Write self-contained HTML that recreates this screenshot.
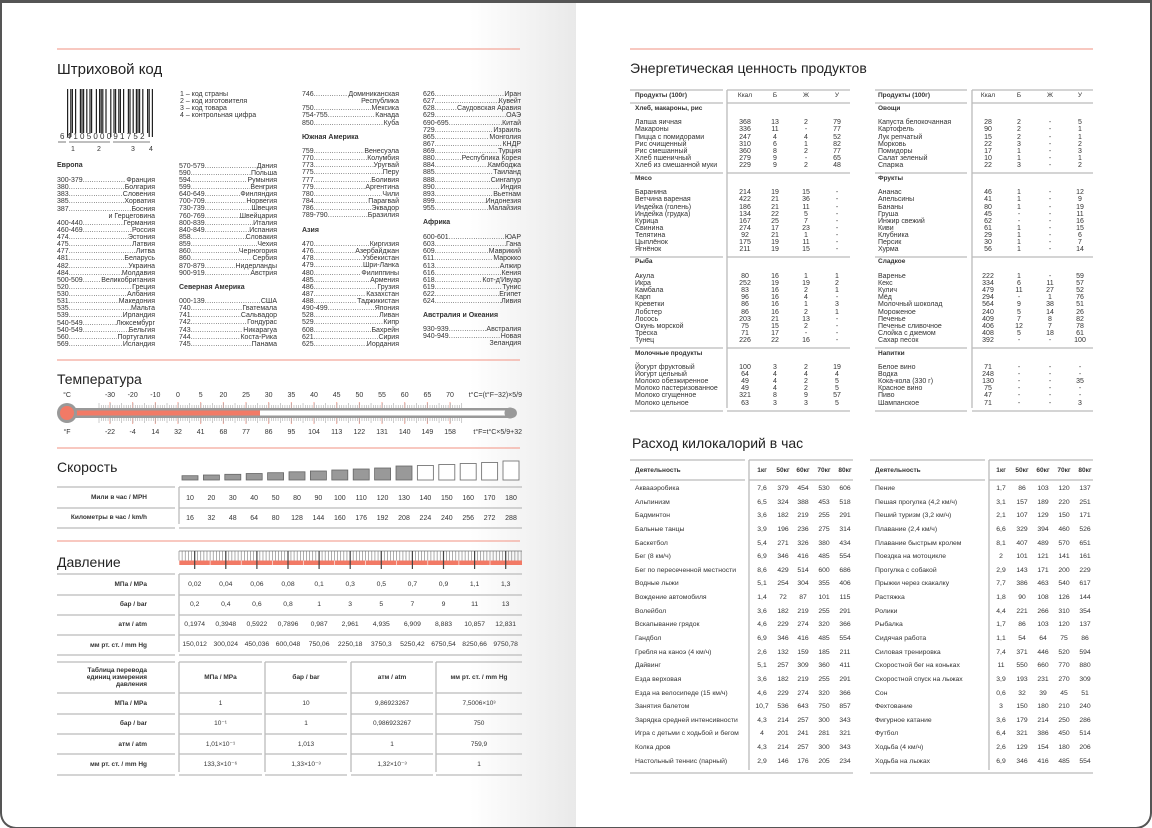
<!DOCTYPE html>
<html><head><meta charset="utf-8">
<style>
html,body{margin:0;padding:0;background:#fff;}
#pg{position:relative;width:1152px;height:828px;overflow:hidden;background:#fff;font-family:"Liberation Sans","DejaVu Sans",sans-serif;color:#333;}
#frame{position:absolute;left:0;top:0;width:1148px;height:824px;border:2px solid #555;border-top-width:3px;border-radius:0 0 16px 16px;}
.t{position:absolute;white-space:nowrap;}
.l{position:absolute;}
.lr{position:absolute;display:flex;font-size:7px;line-height:7px;white-space:nowrap;}
.lr .d{flex:1;overflow:hidden;letter-spacing:0.3px;}
</style></head><body>
<div id="pg">
<div style="position:absolute;left:470px;top:0;width:106px;height:828px;background:linear-gradient(90deg,rgba(255,255,255,0),#e9e9e9)"></div>
<svg id="sv" width="1152" height="828" style="position:absolute;left:0;top:0"></svg>
<div id="frame"></div>
</div>
<script>
var pg=document.getElementById('pg');var sv=document.getElementById('sv');var NS='http://www.w3.org/2000/svg';
function T(x,y,s,o){o=o||{};var fs=o.fs||7;var d=document.createElement('div');d.className='t';d.textContent=s;
d.style.left=x+'px';d.style.top=(y-fs*0.58)+'px';d.style.fontSize=fs+'px';d.style.lineHeight=fs+'px';
if(o.b)d.style.fontWeight='bold';if(o.c)d.style.color=o.c;
if(o.a=='c')d.style.transform='translateX(-50%)';if(o.a=='r')d.style.transform='translateX(-100%)';pg.appendChild(d);return d;}
function S(tag,at){var e=document.createElementNS(NS,tag);for(var k in at)e.setAttribute(k,at[k]);sv.appendChild(e);return e;}
function H(x1,x2,y,c,w){S('line',{x1:x1,x2:x2,y1:y,y2:y,stroke:c||'#bbb','stroke-width':w||1.3});}
function V(x,y1,y2,c,w){S('line',{x1:x,x2:x,y1:y1,y2:y2,stroke:c||'#bbb','stroke-width':w||1.3});}
var OR='#f4a79a';
function LR(x,w,y,code,name){var d=document.createElement('div');d.className='lr';d.style.left=x+'px';d.style.width=w+'px';d.style.top=(y-4)+'px';
d.innerHTML='<span></span><span class="d">........................................................................</span><span></span>';d.children[0].textContent=code;d.children[2].textContent=name;pg.appendChild(d);}
function list(x,w,y,arr){arr.forEach(function(it,i){var yy=y+i*7.13;if(it[0]==='')T(x+w,yy,it[1],{a:'r'});else LR(x,w,yy,it[0],it[1]);});}

// ===== LEFT PAGE =====
H(57,520,49,OR,1.3);H(630,1093,49,OR,1.3);
T(57,71,'Штриховой код',{fs:15,c:'#222'});
// barcode
(function(){var x=67;var pat=[1,0,1,1,0,1,0,0,1,1,1,0,1,0,1,1,0,0,1,0,1,1,1,0,1,0,0,1,0,1,1,0,1,1,0,1,0,0,1,1,0,1,0,1,1,1,0,1,0,0,1,1,0,1];
for(var i=0;i<pat.length;i++){if(pat[i])S('rect',{x:x+i*1.6,y:89,width:1.2,height:(i<3||i>50||(i>25&&i<29))?48:44,fill:'#222'});}})();
T(60,138,'6   4 1 0 5 0 0   0 9 1 7 5 2',{fs:8});
H(58,66,142,'#555',0.8);H(69,110,142,'#555',0.8);H(113,150,142,'#555',0.8);
T(71,150,'1',{fs:7});T(97,150,'2',{fs:7});T(131,150,'3',{fs:7});T(149,150,'4',{fs:7});
T(180,95,'1 – код страны');T(180,102,'2 – код изготовителя');T(180,109,'3 – код товара');T(180,116,'4 – контрольная цифра');
T(57,166,'Европа',{b:1});
list(57,98,181,[['300-379','Франция'],['380','Болгария'],['383','Словения'],['385','Хорватия'],['387','Босния'],['','и Герцеговина'],['400-440','Германия'],['460-469','Россия'],['474','Эстония'],['475','Латвия'],['477','Литва'],['481','Беларусь'],['482','Украина'],['484','Молдавия'],['500-509','Великобритания'],['520','Греция'],['530','Албания'],['531','Македония'],['535','Мальта'],['539','Ирландия'],['540-549','Люксембург'],['540-549','Бельгия'],['560','Португалия'],['569','Исландия']]);
list(179,98,166.7,[['570-579','Дания'],['590','Польша'],['594','Румыния'],['599','Венгрия'],['640-649','Финляндия'],['700-709','Норвегия'],['730-739','Швеция'],['760-769','Швейцария'],['800-839','Италия'],['840-849','Испания'],['858','Словакия'],['859','Чехия'],['860','Черногория'],['860','Сербия'],['870-879','Нидерланды'],['900-919','Австрия']]);
T(179,288,'Северная Америка',{b:1});
list(179,98,302,[['000-139','США'],['740','Гватемала'],['741','Сальвадор'],['742','Гондурас'],['743','Никарагуа'],['744','Коста-Рика'],['745','Панама']]);
list(302,97,95,[['746','Доминиканская'],['','Республика'],['750','Мексика'],['754-755','Канада'],['850','Куба']]);
T(302,138,'Южная Америка',{b:1});
list(302,97,152,[['759','Венесуэла'],['770','Колумбия'],['773','Уругвай'],['775','Перу'],['777','Боливия'],['779','Аргентина'],['780','Чили'],['784','Парагвай'],['786','Эквадор'],['789-790','Бразилия']]);
T(302,231,'Азия',{b:1});
list(302,97,245,[['470','Киргизия'],['476','Азербайджан'],['478','Узбекистан'],['479','Шри-Ланка'],['480','Филиппины'],['485','Армения'],['486','Грузия'],['487','Казахстан'],['488','Таджикистан'],['490-499','Япония'],['528','Ливан'],['529','Кипр'],['608','Бахрейн'],['621','Сирия'],['625','Иордания']]);
list(423,98,95,[['626','Иран'],['627','Кувейт'],['628','Саудовская Аравия'],['629','ОАЭ'],['690-695','Китай'],['729','Израиль'],['865','Монголия'],['867','КНДР'],['869','Турция'],['880','Республика Корея'],['884','Камбоджа'],['885','Таиланд'],['888','Сингапур'],['890','Индия'],['893','Вьетнам'],['899','Индонезия'],['955','Малайзия']]);
T(423,223,'Африка',{b:1});
list(423,98,238,[['600-601','ЮАР'],['603','Гана'],['609','Маврикий'],['611','Марокко'],['613','Алжир'],['616','Кения'],['618',"Кот-д'Ивуар"],['619','Тунис'],['622','Египет'],['624','Ливия']]);
T(423,316,'Австралия и Океания',{b:1});
list(423,98,330,[['930-939','Австралия'],['940-949','Новая'],['','Зеландия']]);
H(57,520,360,OR,1.3);

// Temperature
T(57,380,'Температура',{fs:14,c:'#222'});
T(67,396,'°C',{a:'c'});T(67,433,'°F',{a:'c'});
var cl=['-30','-20','-10','0','5','20','25','30','35','40','45','50','55','60','65','70'];
var fl=['-22','-4','14','32','41','68','77','86','95','104','113','122','131','140','149','158'];
for(var i=0;i<16;i++){var x=110+i*22.67;T(x,396,cl[i],{a:'c'});T(x,433,fl[i],{a:'c'});V(x,402,424,OR,1);}
for(var k=0;k<=160;k++){var x=99+k*2.267;var lg=(k%5==0)?5:3;V(x,408-lg,408,'#aaa',0.6);V(x,418,418+lg,'#aaa',0.6);}
T(522,396,'t°C=(t°F−32)×5/9',{a:'r'});T(522,433,'t°F=t°C×5/9+32',{a:'r'});
S('rect',{x:67,y:408,width:450,height:10,rx:5,fill:'#999'});
S('rect',{x:70,y:410.5,width:444,height:5,rx:2.5,fill:'#fff'});
S('rect',{x:70,y:410.5,width:190,height:5,fill:'#f27a66'});
S('circle',{cx:510,cy:413,r:5.5,fill:'#999'});S('circle',{cx:67,cy:413,r:10,fill:'#999'});S('circle',{cx:67,cy:413,r:7,fill:'#f27a66'});
H(57,520,448,OR,1.3);

// Speed
T(57,468,'Скорость',{fs:14,c:'#222'});
var bh=[4.3,5,5.7,6.5,7.3,8.2,9,10,11,12,14,14.5,15.5,16.5,17.5,19];
for(var i=0;i<16;i++){var x=182+i*21.4;if(i<11)S('rect',{x:x,y:480-bh[i],width:16,height:bh[i],fill:'#999',stroke:'#666','stroke-width':0.8});else S('rect',{x:x,y:480-bh[i],width:16,height:bh[i],fill:'#fff',stroke:'#777','stroke-width':0.9});}
H(57,175,487);H(179,522,487);H(57,175,508);H(179,522,508);H(57,175,528);H(179,522,528);V(179,487,524);
T(147,499,'Мили в час / MPH',{a:'r',b:1,fs:6.5});T(147,519,'Километры в час / km/h',{a:'r',b:1,fs:6.5});
var mph=[10,20,30,40,50,80,90,100,110,120,130,140,150,160,170,180];
for(var i=0;i<16;i++){T(190+i*21.4,499,''+mph[i],{a:'c'});T(190+i*21.4,519,''+Math.round(mph[i]*1.6),{a:'c'});}
H(57,520,541,OR,1.3);

// Pressure
T(57,563,'Давление',{fs:14,c:'#222'});
H(179,522,551,'#777',0.8);S('rect',{x:179,y:560.5,width:343,height:4.5,fill:'#f27a66'});
for(var k=0;k<=110;k++){V(179+k*3.11,551,560.5,'#777',0.6);}
for(var k=0;k<11;k++){V(194.7+k*31.1,551,569,'#444',1.2);V(179+k*31.1,560.5,565,'#fff',0.6);}
var pl=['МПа / MPa','бар / bar','атм / atm','мм рт. ст. / mm Hg'];
var pv=[['0,02','0,04','0,06','0,08','0,1','0,3','0,5','0,7','0,9','1,1','1,3'],['0,2','0,4','0,6','0,8','1','3','5','7','9','11','13'],['0,1974','0,3948','0,5922','0,7896','0,987','2,961','4,935','6,909','8,883','10,857','12,831'],['150,012','300,024','450,036','600,048','750,06','2250,18','3750,3','5250,42','6750,54','8250,66','9750,78']];
var ly=[574,595,615,635,655];
ly.forEach(function(y){H(57,175,y);H(179,522,y);});V(179,574,652);
for(var r=0;r<4;r++){var y=586+r*20.1;T(147,y,pl[r],{a:'r',b:1,fs:6.5});for(var k=0;k<11;k++)T(194.7+k*31.1,y,pv[r][k],{a:'c',fs:6.8});}
var cx=[[57,175],[179,262],[265,347],[351,433],[436,522]];
[662,693,714,734,754,775].forEach(function(y){cx.forEach(function(c){H(c[0],c[1],y);});});
for(var j=1;j<5;j++)V(cx[j][0],662,772);
T(147,672,'Таблица перевода',{a:'r',b:1,fs:6.5});T(147,679,'единиц измерения',{a:'r',b:1,fs:6.5});T(147,686,'давления',{a:'r',b:1,fs:6.5});
var hd=['МПа / MPa','бар / bar','атм / atm','мм рт. ст. / mm Hg'];
for(var j=0;j<4;j++)T((cx[j+1][0]+cx[j+1][1])/2,679,hd[j],{a:'c',b:1,fs:6.5});
var tv=[['1','10','9,86923267','7,5006×10³'],['10⁻¹','1','0,986923267','750'],['1,01×10⁻¹','1,013','1','759,9'],['133,3×10⁻⁶','1,33×10⁻³','1,32×10⁻³','1']];
for(var r=0;r<4;r++){var y=705+r*20.2;T(147,y,pl[r],{a:'r',b:1,fs:6.5});for(var j=0;j<4;j++)T((cx[j+1][0]+cx[j+1][1])/2,y,tv[r][j],{a:'c',fs:6.5});}

// ===== RIGHT PAGE =====
T(630,69,'Энергетическая ценность продуктов',{fs:14,c:'#222'});
function ftab(nx,n2,lx1,lx2,vx1,vx2,cols,secs){
 H(lx1,lx2,90);H(vx1,vx2,90);H(lx1,lx2,103);H(vx1,vx2,103);
 T(nx,97,'Продукты',{b:1,fs:6.5}).innerHTML='<b>Продукты</b> (100г)';
 ['Ккал','Б','Ж','У'].forEach(function(h,i){T(cols[i],97,h,{a:'c',fs:6.5});});
 var hy=[110,180,263,355],iy=[123.3,193.3,277,368],ey=[173,257,348,411];
 V(vx1,90,408);
 for(var s=0;s<4;s++){T(nx,hy[s],secs[s][0],{b:1,fs:6.5});
  secs[s][1].forEach(function(r,i){var y=iy[s]+i*7.13;T(nx,y,r[0],{fs:7});for(var c=0;c<4;c++)T(cols[c],y,r[c+1],{a:'c',fs:7});});
  H(lx1,lx2,ey[s]);H(vx1,vx2,ey[s]);}
}
function P(s){return s.split('|').map(function(r){return r.split(';');});}
ftab(635,0,630,723,727,850,[745,775,806,837],[
['Хлеб, макароны, рис',P('Лапша яичная;368;13;2;79|Макароны;336;11;-;77|Пицца с помидорами;247;4;4;52|Рис очищенный;310;6;1;82|Рис смешанный;360;8;2;77|Хлеб пшеничный;279;9;-;65|Хлеб из смешанной муки;229;9;2;48')],
['Мясо',P('Баранина;214;19;15;-|Ветчина вареная;422;21;36;-|Индейка (голень);186;21;11;-|Индейка (грудка);134;22;5;-|Курица;167;25;7;-|Свинина;274;17;23;-|Телятина;92;21;1;-|Цыплёнок;175;19;11;-|Ягнёнок;211;19;15;-')],
['Рыба',P('Акула;80;16;1;1|Икра;252;19;19;2|Камбала;83;16;2;1|Карп;96;16;4;-|Креветки;86;16;1;3|Лобстер;86;16;2;1|Лосось;203;21;13;-|Окунь морской;75;15;2;-|Треска;71;17;-;-|Тунец;226;22;16;-')],
['Молочные продукты',P('Йогурт фруктовый;100;3;2;19|Йогурт цельный;64;4;4;4|Молоко обезжиренное;49;4;2;5|Молоко пастеризованное;49;4;2;5|Молоко сгущенное;321;8;9;57|Молоко цельное;63;3;3;5')]]);
ftab(878,0,875,967,972,1093,[988,1019,1050,1080],[
['Овощи',P('Капуста белокочанная;28;2;-;5|Картофель;90;2;-;1|Лук репчатый;15;2;-;1|Морковь;22;3;-;2|Помидоры;17;1;-;3|Салат зеленый;10;1;-;1|Спаржа;22;3;-;2')],
['Фрукты',P('Ананас;46;1;-;12|Апельсины;41;1;-;9|Бананы;80;1;-;19|Груша;45;-;-;11|Инжир свежий;62;-;-;16|Киви;61;1;-;15|Клубника;29;1;-;6|Персик;30;1;-;7|Хурма;56;1;-;14')],
['Сладкое',P('Варенье;222;1;-;59|Кекс;334;6;11;57|Кулич;479;11;27;52|Мёд;294;-;1;76|Молочный шоколад;564;9;38;51|Мороженое;240;5;14;26|Печенье;409;7;8;82|Печенье сливочное;406;12;7;78|Слойка с джемом;408;5;18;61|Сахар песок;392;-;-;100')],
['Напитки',P('Белое вино;71;-;-;-|Водка;248;-;-;-|Кока-кола (330 г);130;-;-;35|Красное вино;75;-;-;-|Пиво;47;-;-;-|Шампанское;71;-;-;3')]]);

T(632,444,'Расход килокалорий в час',{fs:14,c:'#222'});
function ktab(nx,lx1,lx2,vx,vx2,cols,rows){
 H(lx1,lx2,460);H(vx,vx2,460);H(lx1,lx2,480);H(vx,vx2,480);V(vx,460,770);H(lx1,vx2,773);
 T(nx,472,'Деятельность',{b:1,fs:6.5});['1кг','50кг','60кг','70кг','80кг'].forEach(function(h,i){T(cols[i],472,h,{a:'c',b:1,fs:6.5});});
 rows.forEach(function(r,i){var y=490+i*13.63;T(nx,y,r[0],{fs:6.8});for(var c=0;c<5;c++)T(cols[c],y,r[c+1],{a:'c',fs:6.8});});
}
ktab(635,630,745,749,853,[762,783,803,824,845],P('Аквааэробика;7,6;379;454;530;606|Альпинизм;6,5;324;388;453;518|Бадминтон;3,6;182;219;255;291|Бальные танцы;3,9;196;236;275;314|Баскетбол;5,4;271;326;380;434|Бег (8 км/ч);6,9;346;416;485;554|Бег по пересеченной местности;8,6;429;514;600;686|Водные лыжи;5,1;254;304;355;406|Вождение автомобиля;1,4;72;87;101;115|Волейбол;3,6;182;219;255;291|Вскапывание грядок;4,6;229;274;320;366|Гандбол;6,9;346;416;485;554|Гребля на каноэ (4 км/ч);2,6;132;159;185;211|Дайвинг;5,1;257;309;360;411|Езда верховая;3,6;182;219;255;291|Езда на велосипеде (15 км/ч);4,6;229;274;320;366|Занятия балетом;10,7;536;643;750;857|Зарядка средней интенсивности;4,3;214;257;300;343|Игра с детьми с ходьбой и бегом;4;201;241;281;321|Колка дров;4,3;214;257;300;343|Настольный теннис (парный);2,9;146;176;205;234'));
ktab(875,870,985,989,1093,[1001,1022,1043,1064,1085],P('Пение;1,7;86;103;120;137|Пешая прогулка (4,2 км/ч);3,1;157;189;220;251|Пеший туризм (3,2 км/ч);2,1;107;129;150;171|Плавание (2,4 км/ч);6,6;329;394;460;526|Плавание быстрым кролем;8,1;407;489;570;651|Поездка на мотоцикле;2;101;121;141;161|Прогулка с собакой;2,9;143;171;200;229|Прыжки через скакалку;7,7;386;463;540;617|Растяжка;1,8;90;108;126;144|Ролики;4,4;221;266;310;354|Рыбалка;1,7;86;103;120;137|Сидячая работа;1,1;54;64;75;86|Силовая тренировка;7,4;371;446;520;594|Скоростной бег на коньках;11;550;660;770;880|Скоростной спуск на лыжах;3,9;193;231;270;309|Сон;0,6;32;39;45;51|Фехтование;3;150;180;210;240|Фигурное катание;3,6;179;214;250;286|Футбол;6,4;321;386;450;514|Ходьба (4 км/ч);2,6;129;154;180;206|Ходьба на лыжах;6,9;346;416;485;554'));
</script>
</body></html>
